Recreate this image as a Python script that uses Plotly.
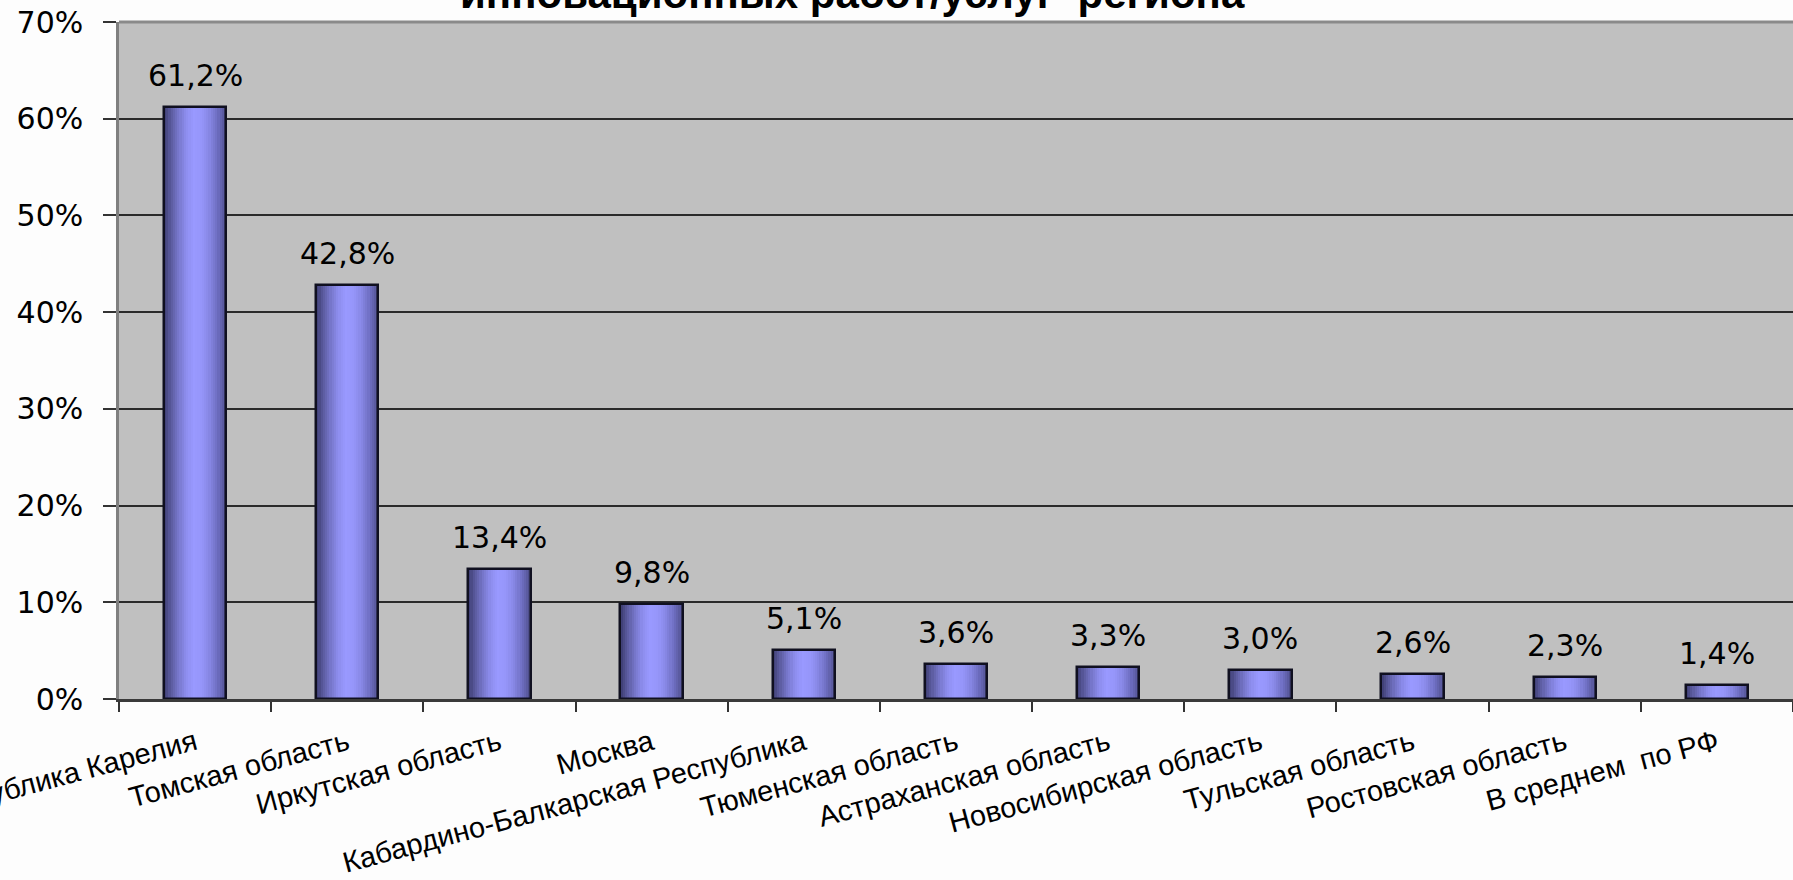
import plotly.graph_objects as go

# ---------------- data ----------------
categories = [
    "Республика Карелия",
    "Томская область",
    "Иркутская область",
    "Москва",
    "Кабардино-Балкарская Республика",
    "Тюменская область",
    "Астраханская область",
    "Новосибирская область",
    "Тульская область",
    "Ростовская область",
    "В среднем  по РФ",
]
values = [61.2, 42.8, 13.4, 9.8, 5.1, 3.6, 3.3, 3.0, 2.6, 2.3, 1.4]
value_labels = ["61,2%", "42,8%", "13,4%", "9,8%", "5,1%", "3,6%",
                "3,3%", "3,0%", "2,6%", "2,3%", "1,4%"]
y_tick_values = [0, 10, 20, 30, 40, 50, 60, 70]
y_tick_labels = ["0%", "10%", "20%", "30%", "40%", "50%", "60%", "70%"]
title_text = "инновационных работ/услуг  региона"

# ---------------- styling ----------------
BAR_W = 0.41
N_SLICES = 28
stops = [
    (0.00, (0x3c, 0x3c, 0x70)),
    (0.10, (0x58, 0x58, 0x9a)),
    (0.22, (0x74, 0x74, 0xc6)),
    (0.35, (0x8c, 0x8c, 0xec)),
    (0.47, (0x99, 0x99, 0xff)),
    (0.60, (0x96, 0x96, 0xfa)),
    (0.72, (0x88, 0x88, 0xe6)),
    (0.85, (0x70, 0x70, 0xc4)),
    (0.95, (0x5a, 0x5a, 0xa0)),
    (1.00, (0x48, 0x48, 0x80)),
]


def grad_color(t):
    for (t0, c0), (t1, c1) in zip(stops[:-1], stops[1:]):
        if t0 <= t <= t1:
            f = (t - t0) / (t1 - t0) if t1 > t0 else 0
            c = [round(a + (b - a) * f) for a, b in zip(c0, c1)]
            return "rgb(%d,%d,%d)" % tuple(c)
    return "rgb(%d,%d,%d)" % stops[-1][1]


fig = go.Figure()

slice_w = BAR_W / N_SLICES
for k in range(N_SLICES):
    t = (k + 0.5) / N_SLICES
    fig.add_trace(go.Bar(
        x=categories, y=values,
        offset=-BAR_W / 2 + k * slice_w,
        width=slice_w * 1.15,
        marker=dict(color=grad_color(t), line=dict(width=0)),
        hoverinfo="skip", showlegend=False,
    ))

# outline
fig.add_trace(go.Bar(
    x=categories, y=values,
    offset=-BAR_W / 2, width=BAR_W,
    marker=dict(color="rgba(0,0,0,0)", line=dict(color="#101020", width=2.5)),
    hoverinfo="skip", showlegend=False,
))

annotations = []
for c, v, lab in zip(categories, values, value_labels):
    annotations.append(dict(
        x=c, y=v, xref="x", yref="y", text=lab, showarrow=False,
        yanchor="bottom", yshift=12,
        font=dict(family="DejaVu Sans", size=30, color="#000000"),
    ))

annotations.append(dict(
    x=0.438, y=1.0414, xref="paper", yref="paper",
    text="<b>" + title_text + "</b>", showarrow=False,
    xanchor="center", yanchor="middle",
    font=dict(family="Liberation Sans", size=42, color="#000000"),
))

fig.update_layout(
    width=1793, height=880,
    margin=dict(l=119, r=0, t=22, b=181),
    paper_bgcolor="#fdfdfd",
    plot_bgcolor="#c0c0c0",
    barmode="overlay",
    bargap=0,
    showlegend=False,
    annotations=annotations,
    shapes=[dict(type="line", xref="paper", yref="paper", x0=0, x1=1, y0=1, y1=1,
                 line=dict(color="#8a8a8a", width=3), layer="above")],
)

fig.update_xaxes(
    type="category",
    categoryorder="array", categoryarray=categories,
    range=[-0.5, 10.5],
    tickangle=-15,
    tickfont=dict(family="Liberation Sans", size=29, color="#000000"),
    ticks="outside", tickson="boundaries", ticklen=10, tickwidth=1.5, tickcolor="#333333",
    ticklabelstandoff=13,
    showline=True, linecolor="#3a3a3a", linewidth=2.5,
    showgrid=False, automargin=False,
)

fig.update_yaxes(
    range=[0, 70],
    tickvals=y_tick_values, ticktext=y_tick_labels,
    tickfont=dict(family="DejaVu Sans", size=30, color="#000000"),
    ticks="outside", ticklen=13, tickwidth=1.5, tickcolor="#333333",
    ticklabelstandoff=14,
    showline=True, linecolor="#808080", linewidth=2.5,
    showgrid=True, gridcolor="#2a2a2a", gridwidth=1.5,
    zeroline=False, automargin=False,
)

fig.write_html("out.html", config={"displayModeBar": False},
               post_script="document.body.style.margin='0';")
